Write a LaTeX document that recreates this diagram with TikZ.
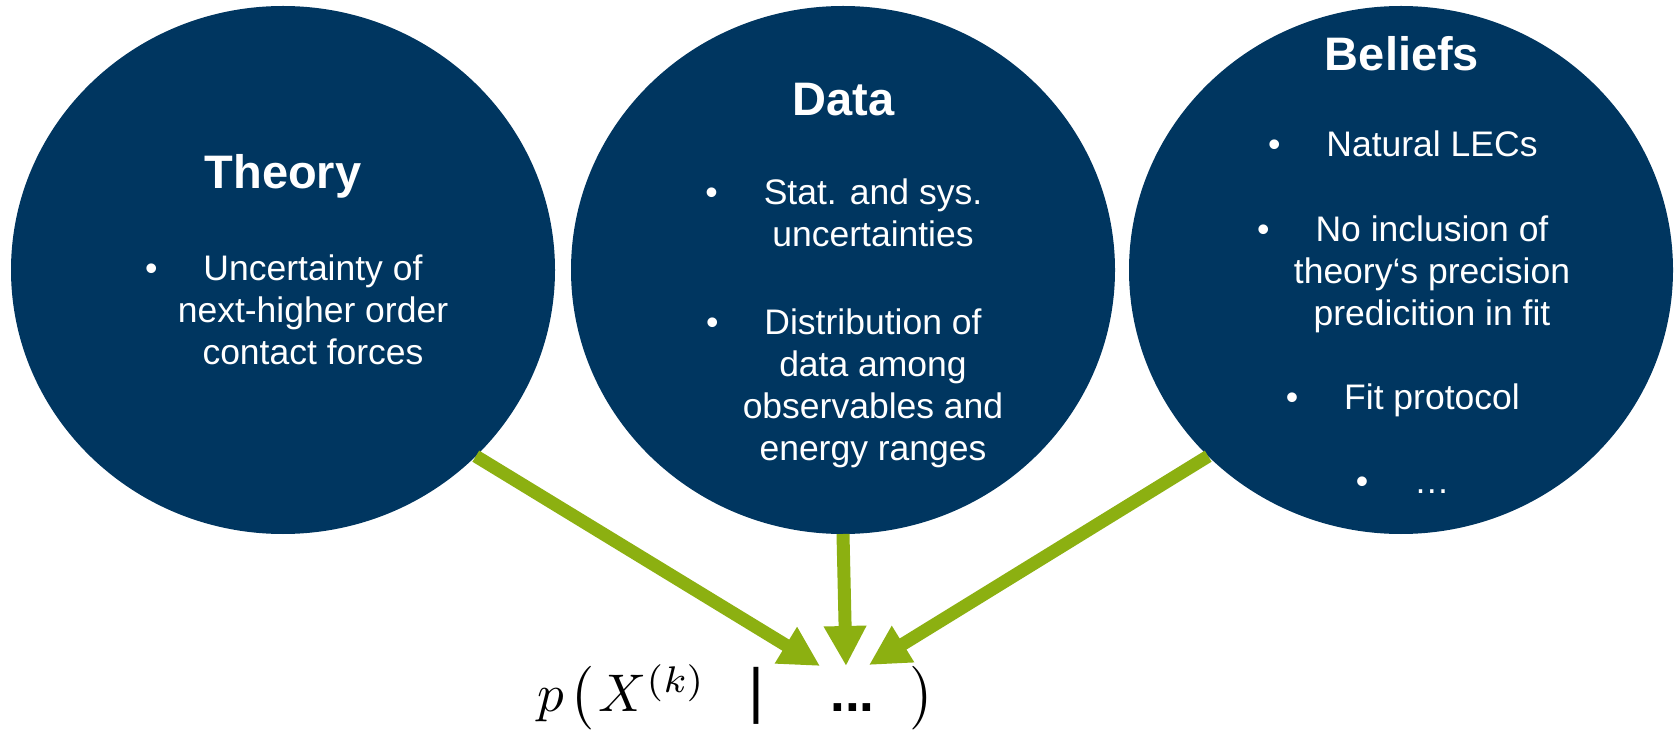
\documentclass[tikz,border=0pt]{standalone}
\usepackage{fontspec}
\setmainfont{Liberation Sans}
\usetikzlibrary{arrows.meta,shapes.geometric}
\definecolor{navy}{RGB}{0,54,96}
\definecolor{lime}{RGB}{140,176,17}
\newcommand{\blt}{\leavevmode\llap{•\hspace{46pt}}}
\begin{document}
\begin{tikzpicture}[x=1pt,y=1pt,
  blob/.style={ellipse, fill=navy, minimum width=544pt, minimum height=528pt, inner sep=0pt, outer sep=0pt},
  title/.style={anchor=base, text=white, inner sep=0pt, font=\fontsize{47}{56}\selectfont\bfseries},
  item/.style={anchor=base, text=white, inner sep=0pt, font=\fontsize{35.5}{42}\selectfont},
  flow/.style={draw=lime, line width=13pt, -{Triangle[width=40pt,length=40pt]}}]
\fill[white] (0,0) rectangle (1674,732);
\useasboundingbox (0,0) rectangle (1674,732);
% circles
\node[blob] (theory) at (283,462) {};
\node[blob] (data) at (843,462) {};
\node[blob] (beliefs) at (1401,462) {};
% titles
\node[title] (theoryT) at (283,543.3) {Theory};
\node[title] (dataT) at (843.5,616) {Data};
\node[title] (beliefsT) at (1402,661.8) {Beliefs};
% items
\node[item] (th1) at (313,451) {\parbox[t]{330pt}{\centering\blt Uncertainty of\\next-higher order\\contact forces}};
\node[item] (d1) at (873,527) {\parbox[t]{330pt}{\centering\blt Stat. and sys.\\uncertainties}};
\node[item] (d2) at (873,397.4) {\parbox[t]{330pt}{\centering\blt Distribution of\\data among\\observables and\\energy ranges}};
\node[item] (b1) at (1432,575.6) {\parbox[t]{330pt}{\centering\blt Natural LECs}};
\node[item] (b2) at (1432,490.7) {\parbox[t]{330pt}{\centering\blt No inclusion of\\theory‘s precision\\predicition in fit}};
\node[item] (b3) at (1432,322.6) {\parbox[t]{330pt}{\centering\blt Fit protocol}};
\node[item] (b4) at (1432,239) {\parbox[t]{330pt}{\centering\blt …}};
% formula
\node[anchor=base west, scale=5.3, inner sep=0pt] (pf) at (536,20.3) {$p\hspace{1pt}\bigl(\hspace{1pt}X^{(k)}\hspace{8pt}\mbox{\fontsize{11.5}{11.5}\selectfont |}\hspace{12.5pt}\mbox{\fontsize{10}{10}\selectfont\bfseries ...}\hspace{6.7pt}\bigr)$};
% arrows
\coordinate (tipT) at (820,66);
\coordinate (tipD) at (846,66);
\coordinate (tipB) at (869,67);
\draw[flow] (theory.-44) -- (tipT);
\draw[flow] (data.south) -- (tipD);
\draw[flow] (beliefs.-136) -- (tipB);
\end{tikzpicture}
\end{document}
